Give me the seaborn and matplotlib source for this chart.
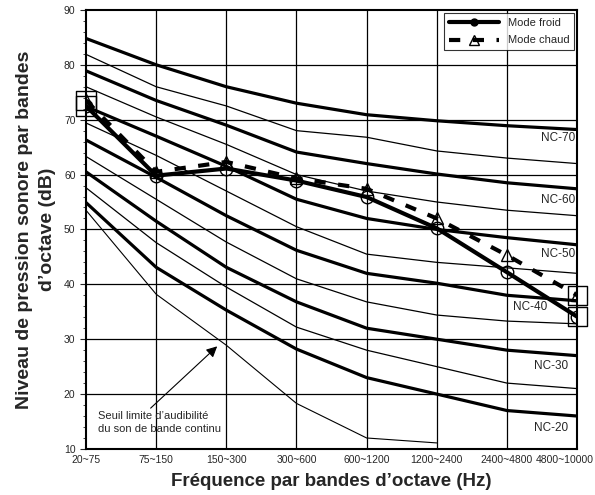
import numpy as np
import pandas as pd
import matplotlib
matplotlib.use("Agg")
import matplotlib.pyplot as plt
import seaborn as sns

# --------------------------------------------------------------
# Data
# --------------------------------------------------------------
bands = ["20~75", "75~150", "150~300", "300~600",
         "600~1200", "1200~2400", "2400~4800", "4800~10000"]

nc70 = [84.8, 80.0, 76.0, 73.0, 70.9, 69.8, 68.9, 68.2]
nc65 = [81.9, 76.0, 72.5, 68.0, 66.8, 64.3, 63.0, 62.0]
nc60 = [78.9, 73.5, 69.0, 64.1, 62.0, 60.1, 58.5, 57.4]
nc55 = [76.0, 70.5, 65.5, 60.0, 57.0, 55.0, 53.5, 52.5]
nc50 = [72.4, 67.0, 61.5, 55.5, 52.0, 50.0, 48.5, 47.2]
nc45 = [69.4, 63.5, 57.0, 50.5, 45.5, 44.0, 43.0, 42.0]
nc40 = [66.3, 59.5, 52.5, 46.2, 42.0, 40.2, 38.0, 37.0]
nc35 = [63.3, 55.5, 47.7, 41.0, 36.8, 34.4, 33.3, 32.8]
nc30 = [60.5, 51.5, 43.1, 36.8, 32.0, 30.0, 28.0, 27.0]
nc25 = [57.6, 47.6, 39.5, 32.2, 28.0, 25.0, 22.0, 21.0]
nc20 = [54.9, 43.1, 35.3, 28.2, 23.0, 20.0, 17.0, 16.0]
seuil = [53.5, 38.2, 28.9, 18.3, 12.0, 11.1]

mode_froid = [72.5, 59.8, 61.1, 58.9, 55.9, 50.2, 42.2, 34.1]
mode_chaud = [73.5, 60.5, 62.3, 59.3, 57.4, 52.0, 45.3, 38.0]

thick_curves = [nc70, nc60, nc50, nc40, nc30, nc20]
thin_curves = [nc65, nc55, nc45, nc35, nc25]

nc_labels = ["NC-70", "NC-60", "NC-50", "NC-40", "NC-30", "NC-20"]
nc_label_x = [6.98, 6.98, 6.98, 6.33, 6.87, 6.87]
nc_label_y = [66.7, 55.4, 45.6, 35.8, 25.1, 13.8]
nc_label_ha = ["right", "right", "right", "center", "right", "right"]

# --------------------------------------------------------------
# Plot
# --------------------------------------------------------------
sns.set_style("white")
plt.rcParams["font.family"] = ["Liberation Sans", "DejaVu Sans"]

fig = plt.figure(figsize=(5.95, 4.95), dpi=100)
ax = fig.add_axes([0.1445, 0.093, 0.8255, 0.887])

pos = np.arange(len(bands))

for curve in thick_curves:
    sns.lineplot(x=pos, y=curve, ax=ax, color="black", linewidth=2.3, zorder=3)
for curve in thin_curves:
    sns.lineplot(x=pos, y=curve, ax=ax, color="black", linewidth=0.9, zorder=3)
sns.lineplot(x=pos[:len(seuil)], y=seuil, ax=ax, color="black", linewidth=0.8, zorder=3)

# measured spectra
sns.lineplot(x=pos, y=mode_froid, ax=ax, color="black", linewidth=3.0,
             marker="o", markersize=9, markerfacecolor="none",
             markeredgecolor="black", markeredgewidth=1.0, zorder=5,
             label="Mode froid")
sns.lineplot(x=pos, y=mode_chaud, ax=ax, color="black", linewidth=3.0,
             linestyle=(0, (2.7, 3)), marker="^", markersize=9,
             markerfacecolor="none", markeredgecolor="black",
             markeredgewidth=1.0, zorder=5, label="Mode chaud")

# square boxes at the end points
ends = [0, len(bands) - 1]
for series in (mode_froid, mode_chaud):
    sns.scatterplot(x=pos[ends], y=[series[i] for i in ends], ax=ax, marker="s",
                    s=190, facecolor="none", edgecolor="black", linewidth=1.0,
                    zorder=6, clip_on=False)

for lab, lx, ly, ha in zip(nc_labels, nc_label_x, nc_label_y, nc_label_ha):
    ax.text(lx, ly, lab, ha=ha, va="center", fontsize=8.5, zorder=7,
            bbox=dict(facecolor="white", edgecolor="none", pad=0.5))

ax.annotate("Seuil limite d\u2019audibilit\u00e9\ndu son de bande continu",
            xy=(1.87, 28.7), xytext=(0.17, 14.8), fontsize=8,
            ha="left", va="center", linespacing=1.3,
            arrowprops=dict(arrowstyle="-|>", color="black", lw=0.8,
                            mutation_scale=16, shrinkA=0, shrinkB=0,
                            relpos=(0.4, 1.0)))

ax.set_xlim(0, 7)
ax.set_ylim(10, 90)
ax.set_xticks(pos)
# last label is shifted left so it stays inside the figure
ax.set_xticklabels(bands[:-1] + [""], fontsize=7.5)
ax.text(6.83, -0.0135, bands[-1], transform=ax.get_xaxis_transform(),
        ha="center", va="top", fontsize=7.5)
ax.set_yticks(np.arange(10, 91, 10))
ax.set_yticks(np.arange(10, 91, 2), minor=True)
ax.tick_params(axis="y", which="major", labelsize=7.5, length=4, direction="out", left=True)
ax.tick_params(axis="y", which="minor", length=2.5, direction="out", left=True)
ax.tick_params(axis="x", length=0, pad=4)

for xv in pos[1:-1]:
    ax.axvline(xv, color="black", linewidth=0.9, zorder=1)
for yv in range(20, 90, 10):
    ax.axhline(yv, color="black", linewidth=0.9, zorder=1)

for sp in ax.spines.values():
    sp.set_linewidth(1.5)
    sp.set_color("black")

ax.set_xlabel("Fr\u00e9quence par bandes d\u2019octave (Hz)", fontsize=13.5,
              fontweight="bold", labelpad=6)
ax.set_ylabel("Niveau de pression sonore par bandes\nd\u2019octave (dB)", fontsize=14,
              fontweight="bold", labelpad=6, linespacing=1.4)

leg = ax.legend(loc="upper right", fontsize=8, frameon=True, fancybox=False,
                edgecolor="black", borderaxespad=0.3, handlelength=4.5,
                labelspacing=0.7)
leg.get_frame().set_linewidth(0.8)
leg.set_zorder(10)
h_froid, h_chaud = leg.legend_handles
h_froid.set_markersize(5)
h_froid.set_markerfacecolor("black")
h_chaud.set_markersize(7)

plt.savefig("out.png", dpi=100, facecolor="white")
